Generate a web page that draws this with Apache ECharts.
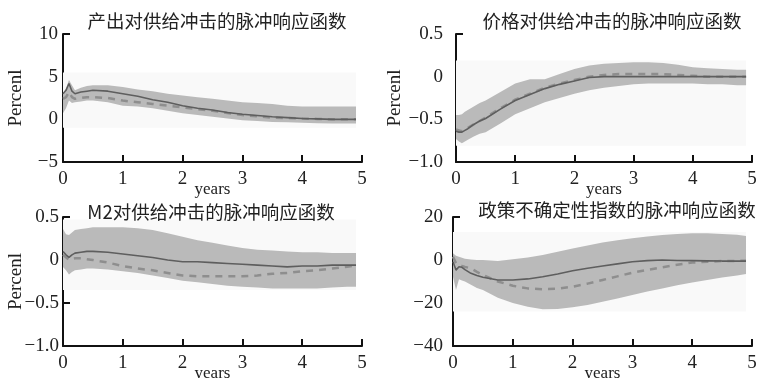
<!DOCTYPE html>
<html><head><meta charset="utf-8">
<script src="https://cdn.jsdelivr.net/npm/echarts@6/dist/echarts.min.js"></script>
<style>html,body{margin:0;padding:0;background:#fff}#c{width:760px;height:378px}</style>
</head><body><div id="c"></div>
<script>
// shared horizon (years)
var years = [0, 0.05, 0.1, 0.15, 0.2, 0.3, 0.4, 0.5, 0.75, 1.0, 1.25, 1.5, 1.75, 2.0, 2.25, 2.5, 2.75, 3.0, 3.25, 3.5, 3.75, 4.0, 4.25, 4.5, 4.75, 4.9];

var titles = ['产出对供给冲击的脉冲响应函数', '价格对供给冲击的脉冲响应函数', 'M2对供给冲击的脉冲响应函数', '政策不确定性指数的脉冲响应函数'];

// Panel 1: output
var p1Upper = [3.0, 3.6, 4.6, 4.0, 3.4, 3.7, 3.9, 4.0, 4.0, 3.8, 3.5, 3.3, 3.0, 2.8, 2.6, 2.4, 2.2, 2.0, 1.9, 1.8, 1.6, 1.5, 1.5, 1.5, 1.5, 1.5];
var p1Lower = [0.7, 1.3, 2.2, 1.9, 2.0, 2.1, 2.2, 2.2, 2.0, 1.6, 1.5, 1.3, 1.0, 0.7, 0.5, 0.3, 0.1, -0.1, -0.2, -0.3, -0.35, -0.4, -0.45, -0.5, -0.5, -0.5];
var p1Solid = [3.0, 3.4, 4.2, 3.3, 3.0, 3.2, 3.3, 3.4, 3.3, 3.0, 2.7, 2.3, 2.0, 1.6, 1.3, 1.1, 0.8, 0.6, 0.45, 0.3, 0.2, 0.1, 0.05, 0.0, 0.0, 0.0];
var p1Dash  = [2.4, 2.6, 3.2, 2.6, 2.4, 2.5, 2.6, 2.6, 2.5, 2.2, 2.0, 1.8, 1.6, 1.4, 1.2, 1.0, 0.75, 0.5, 0.35, 0.2, 0.15, 0.1, 0.05, 0.0, 0.0, 0.0];

// Panel 2: price
var p2Upper = [-0.45, -0.45, -0.44, -0.41, -0.39, -0.35, -0.31, -0.28, -0.18, -0.08, -0.03, -0.03, 0.03, 0.09, 0.13, 0.15, 0.16, 0.17, 0.17, 0.16, 0.14, 0.11, 0.1, 0.09, 0.08, 0.08];
var p2Lower = [-0.73, -0.76, -0.78, -0.76, -0.74, -0.70, -0.67, -0.65, -0.55, -0.44, -0.37, -0.30, -0.25, -0.20, -0.16, -0.13, -0.11, -0.09, -0.08, -0.08, -0.08, -0.08, -0.09, -0.09, -0.10, -0.10];
var p2Solid = [-0.64, -0.65, -0.65, -0.63, -0.61, -0.56, -0.52, -0.49, -0.38, -0.28, -0.21, -0.14, -0.09, -0.05, -0.01, 0.0, 0.0, 0.0, 0.0, 0.0, 0.0, 0.0, 0.0, 0.0, 0.0, 0.0];
var p2Dash  = [-0.62, -0.63, -0.64, -0.62, -0.60, -0.56, -0.52, -0.48, -0.37, -0.27, -0.20, -0.13, -0.08, -0.04, 0.0, 0.02, 0.03, 0.03, 0.03, 0.03, 0.02, 0.01, 0.0, 0.0, 0.0, 0.0];

// Panel 3: M2
var p3Upper = [0.36, 0.30, 0.29, 0.32, 0.35, 0.36, 0.37, 0.38, 0.38, 0.38, 0.37, 0.35, 0.31, 0.27, 0.23, 0.20, 0.17, 0.14, 0.12, 0.11, 0.10, 0.09, 0.09, 0.08, 0.08, 0.08];
var p3Lower = [-0.08, -0.12, -0.17, -0.14, -0.12, -0.11, -0.10, -0.10, -0.11, -0.13, -0.15, -0.18, -0.21, -0.24, -0.26, -0.28, -0.30, -0.31, -0.32, -0.33, -0.33, -0.33, -0.33, -0.32, -0.31, -0.31];
var p3Solid = [0.10, 0.06, 0.03, 0.06, 0.08, 0.09, 0.10, 0.10, 0.09, 0.07, 0.05, 0.03, 0.0, -0.02, -0.02, -0.03, -0.04, -0.05, -0.06, -0.07, -0.08, -0.07, -0.07, -0.06, -0.06, -0.06];
var p3Dash  = [0.06, 0.03, 0.0, 0.01, 0.02, 0.02, 0.01, 0.0, -0.03, -0.07, -0.10, -0.12, -0.15, -0.18, -0.19, -0.19, -0.19, -0.19, -0.18, -0.16, -0.15, -0.13, -0.12, -0.10, -0.08, -0.06];

// Panel 4: policy uncertainty index
var p4Upper = [3.1, 2.0, 1.5, 1.0, 0.6, 0.2, 0.0, 0.0, -0.5, 0.3, 1.2, 2.3, 3.8, 5.4, 6.8, 8.1, 9.2, 10.1, 10.9, 11.6, 12.1, 12.4, 12.4, 12.1, 11.7, 11.2];
var p4Lower = [-7.8, -14.0, -9.0, -9.5, -10.0, -11.5, -13.0, -14.0, -17.5, -20.0, -21.8, -22.9, -22.8, -22.0, -20.9, -19.4, -17.9, -16.3, -14.7, -13.2, -11.8, -10.5, -9.3, -8.1, -7.2, -6.5];
var p4Solid = [-0.8, -4.7, -3.1, -3.4, -4.5, -6.2, -7.2, -8.0, -9.3, -9.3, -8.8, -7.8, -6.5, -5.0, -3.8, -2.8, -1.8, -0.8, -0.3, 0.0, -0.2, -0.3, -0.4, -0.5, -0.5, -0.5];
var p4Dash  = [1.5, -1.5, -2.3, -2.8, -3.2, -3.9, -5.5, -7.0, -10.0, -12.0, -13.2, -13.6, -13.3, -12.4, -11.0, -9.3, -7.6, -5.9, -4.6, -3.4, -2.2, -1.2, -0.8, -0.5, -0.4, -0.3];

// tick labels
var yTicks1 = ['−5', '0', '5', '10'];
var yTicks2 = ['−1.0', '−0.5', '0', '0.5'];
var yTicks3 = ['−1.0', '−0.5', '0', '0.5'];
var yTicks4 = ['−40', '−20', '0', '20'];
var xTicks = ['0', '1', '2', '3', '4', '5'];

var panels = [
  {upper: p1Upper, lower: p1Lower, solid: p1Solid, dash: p1Dash, min: -5, max: 10, interval: 5, ticks: yTicks1, grid: {left: 63, top: 34, width: 299, height: 128}, tx: 212, ty: 7, yname: 'Percenl', ngap: 37, lm: 5, bg: [5.5, -1]},
  {upper: p2Upper, lower: p2Lower, solid: p2Solid, dash: p2Dash, min: -1, max: 0.5, interval: 0.5, ticks: yTicks2, grid: {left: 456, top: 34, width: 296, height: 128}, tx: 607, ty: 7, yname: 'Percenl', ngap: 51, lm: 13, bg: [0.19, -0.81]},
  {upper: p3Upper, lower: p3Lower, solid: p3Solid, dash: p3Dash, min: -1, max: 0.5, interval: 0.5, ticks: yTicks3, grid: {left: 63, top: 217, width: 299, height: 129}, tx: 206, ty: 198, yname: 'Percenl', ngap: 37, lm: 4, bg: [0.47, -0.35]},
  {upper: p4Upper, lower: p4Lower, solid: p4Solid, dash: p4Dash, min: -40, max: 20, interval: 20, ticks: yTicks4, grid: {left: 453, top: 217, width: 299, height: 129}, tx: 612, ty: 196, yname: '', ngap: 40, lm: 10, bg: [13, -24]}
];

var serif = '"Liberation Serif", "DejaVu Serif", serif';
var option = {animation: false, backgroundColor: '#fff', title: [], grid: [], xAxis: [], yAxis: [], series: []};

function pairs(arr) { return years.map(function (x, i) { return [x, arr[i]]; }); }

panels.forEach(function (p, k) {
  option.title.push({text: titles[k], left: p.tx, top: p.ty, textAlign: 'center',
    textStyle: {fontFamily: '"Noto Sans CJK SC"', fontWeight: 'normal', fontSize: 18.5, color: '#222'}});
  option.grid.push(Object.assign({containLabel: false, outerBoundsMode: 'none'}, p.grid));
  var axisLine = {show: true, onZero: false, lineStyle: {color: '#111', width: 2}};
  option.xAxis.push({type: 'value', gridIndex: k, min: 0, max: 5, interval: 1,
    axisLine: axisLine, axisTick: {show: true, inside: true, length: 7, lineStyle: {color: '#111', width: 2}},
    splitLine: {show: false},
    axisLabel: {margin: 8, fontFamily: serif, fontSize: 19, color: '#222', formatter: function (v) { return xTicks[Math.round(v)]; }},
    name: 'years', nameLocation: 'middle', nameGap: 19, nameMoveOverlap: false,
    nameTextStyle: {fontFamily: serif, fontSize: 17, color: '#222'}});
  option.yAxis.push({type: 'value', gridIndex: k, min: p.min, max: p.max, interval: p.interval,
    axisLine: axisLine, axisTick: {show: true, inside: true, length: 7, lineStyle: {color: '#111', width: 2}},
    splitLine: {show: false},
    axisLabel: {margin: p.lm, fontFamily: serif, fontSize: 19, color: '#222',
      formatter: function (v) { return p.ticks[Math.round((v - p.min) / p.interval)]; }},
    name: p.yname, nameLocation: 'middle', nameRotate: 90, nameGap: p.ngap, nameMoveOverlap: false,
    nameTextStyle: {fontFamily: serif, fontSize: 19, color: '#222'}});
  // confidence band drawn as a polygon through the axis scales
  option.series.push({type: 'custom', xAxisIndex: k, yAxisIndex: k, silent: true, z: 1,
    data: [[0, 0]],
    renderItem: function (params, api) {
      var pts = [];
      for (var i = 0; i < years.length; i++) pts.push(api.coord([years[i], p.upper[i]]));
      for (var j = years.length - 1; j >= 0; j--) pts.push(api.coord([years[j], p.lower[j]]));
      var bg0 = api.coord([0, p.bg[0]]), bg1 = api.coord([4.9, p.bg[1]]);
      return {type: 'group', children: [
        {type: 'rect', shape: {x: bg0[0], y: bg0[1], width: bg1[0] - bg0[0], height: bg1[1] - bg0[1]}, style: {fill: '#f9f9f9'}},
        {type: 'polygon', shape: {points: pts, smooth: 0}, style: {fill: '#bababa'}}
      ]};
    }});
  option.series.push({type: 'line', xAxisIndex: k, yAxisIndex: k, data: pairs(p.dash), symbol: 'none',
    lineStyle: {color: '#8e8e8e', width: 2.5, type: [7, 6]}, z: 3});
  option.series.push({type: 'line', xAxisIndex: k, yAxisIndex: k, data: pairs(p.solid), symbol: 'none',
    lineStyle: {color: '#5e5e5e', width: 1.6}, z: 4});
});

var chart = echarts.init(document.getElementById('c'), null, {renderer: 'canvas'});
chart.setOption(option);
</script>
</body></html>
